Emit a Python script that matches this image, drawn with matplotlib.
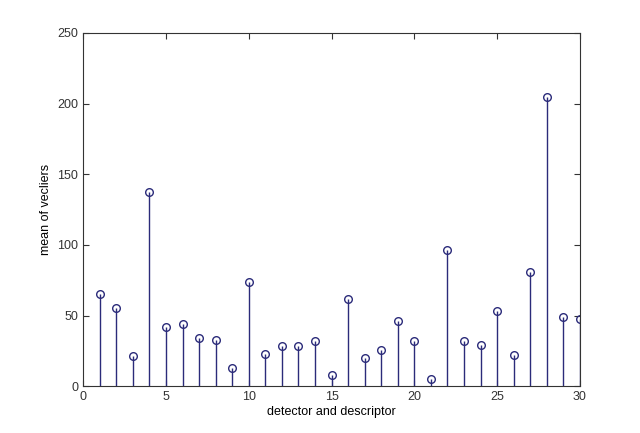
import numpy as np
import matplotlib.pyplot as plt

plt.rcParams['font.family'] = ['Liberation Sans', 'DejaVu Sans']

# detector/descriptor index and mean of outliers
n_values = np.arange(1, 31)
mean_values = [65.2, 55.3, 21.3, 137.3, 41.8, 43.9, 34.2, 32.4, 13.0, 73.5,
               22.7, 28.6, 28.6, 31.7, 7.8, 61.4, 20.1, 25.8, 46.5, 31.7,
               5.2, 96.6, 32.1, 29.1, 52.9, 22.0, 80.6, 205.0, 49.1, 47.7]

fig = plt.figure(figsize=(6.4, 4.33), dpi=100)
ax = fig.add_axes([0.13, 0.108, 0.776, 0.816])

markerline, stemlines, baseline = ax.stem(n_values, mean_values, basefmt=' ')
plt.setp(stemlines, color='#2b2b7a', linewidth=1.0)
plt.setp(markerline, color='#2b2b7a', marker='o', markersize=5.5,
         markerfacecolor='none', markeredgewidth=1.0)

ax.set_xlim(0, 30)
ax.set_ylim(0, 250)
ax.set_xticks(np.arange(0, 31, 5))
ax.set_yticks(np.arange(0, 251, 50))
ax.tick_params(direction='in', top=True, right=True, labelsize=9,
               length=4, width=0.8, colors='#333333')
for s in ax.spines.values():
    s.set_linewidth(0.8)
    s.set_color('#333333')

ax.set_xlabel('detector and descriptor', fontsize=9, labelpad=2)
ax.set_ylabel('mean of vecliers', fontsize=9, labelpad=4)

plt.savefig('out.png')
